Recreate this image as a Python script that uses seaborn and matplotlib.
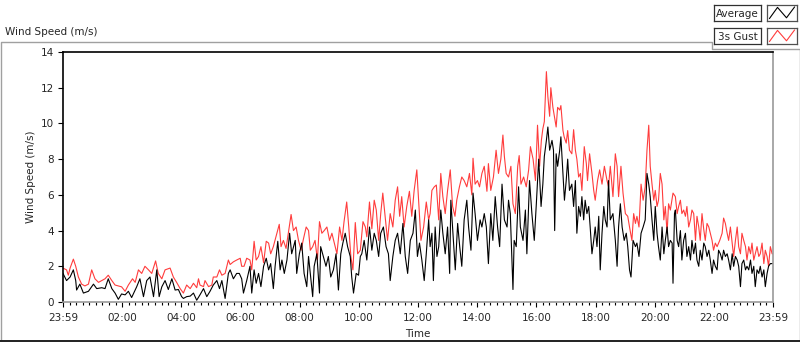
import pandas as pd
import seaborn as sns
import matplotlib.pyplot as plt
from matplotlib.lines import Line2D
from matplotlib.ticker import MultipleLocator, FixedLocator

# Time axis in hours after 23:59, wind speed in m/s
gust_hours = [
    0.00, 0.12, 0.18, 0.24, 0.35, 0.43, 0.52, 0.63, 0.74, 0.86, 0.97, 1.08, 1.20, 1.31, 1.42, 1.53, 1.65, 1.76, 1.87,
    1.98, 2.10, 2.21, 2.35, 2.44, 2.55, 2.66, 2.77, 2.89, 3.00, 3.13, 3.22, 3.34, 3.45, 3.62, 3.73, 3.84, 3.96, 4.07,
    4.18, 4.30, 4.41, 4.52, 4.58, 4.63, 4.75, 4.80, 4.92, 5.03, 5.08, 5.20, 5.29, 5.37, 5.48, 5.59, 5.65, 5.76, 5.87,
    5.99, 6.04, 6.12, 6.21, 6.32, 6.38, 6.46, 6.53, 6.61, 6.69, 6.78, 6.87, 6.95, 7.02, 7.11, 7.23, 7.31, 7.37, 7.45,
    7.54, 7.62, 7.71, 7.79, 7.88, 7.96, 8.05, 8.13, 8.22, 8.30, 8.36,
    8.44, 8.52, 8.60, 8.67, 8.75, 8.83, 8.92, 9.01, 9.09, 9.17, 9.26, 9.35, 9.43, 9.50, 9.59, 9.66, 9.73, 9.80, 9.88,
    9.96, 10.05, 10.14, 10.22, 10.27, 10.36, 10.44, 10.52, 10.59, 10.67, 10.74, 10.81, 10.89, 10.97, 11.06, 11.15,
    11.23, 11.31, 11.38, 11.45, 11.53, 11.62, 11.71, 11.79, 11.87, 11.96, 12.02, 12.10, 12.19, 12.28, 12.36, 12.41,
    12.47, 12.55, 12.62, 12.70, 12.77, 12.84, 12.92, 13.00, 13.09, 13.17, 13.25, 13.31, 13.40, 13.48, 13.56, 13.65,
    13.74, 13.82, 13.86, 13.93, 14.01, 14.08, 14.16, 14.24, 14.33, 14.38, 14.46, 14.55, 14.64, 14.72, 14.80, 14.87,
    14.92, 14.98, 15.06, 15.14, 15.21, 15.29, 15.37, 15.42, 15.48, 15.57, 15.66, 15.74, 15.80, 15.89, 15.97, 16.04,
    16.11, 16.17, 16.22, 16.27, 16.34, 16.39, 16.45,
    16.49, 16.56, 16.61, 16.67, 16.72, 16.79, 16.83, 16.90, 16.94, 17.01, 17.06, 17.12, 17.20, 17.26, 17.32, 17.37,
    17.43, 17.49, 17.54, 17.62, 17.69, 17.73, 17.80, 17.88, 17.94, 17.99, 18.07, 18.14, 18.22, 18.30, 18.39, 18.44,
    18.50, 18.59, 18.67, 18.73, 18.78, 18.86, 18.93, 19.01, 19.09, 19.15, 19.23, 19.29, 19.35, 19.40, 19.47, 19.54,
    19.61, 19.68, 19.74, 19.80, 19.85, 19.91, 19.97, 20.02, 20.08, 20.13, 20.19, 20.25, 20.31, 20.36, 20.42, 20.47,
    20.53,
    20.62, 20.70, 20.76, 20.81, 20.87, 20.92, 20.98, 21.04, 21.09, 21.15, 21.21, 21.26, 21.32, 21.38, 21.43, 21.49,
    21.54, 21.60, 21.66, 21.71, 21.77, 21.83, 21.88, 21.94, 21.99, 22.05, 22.11, 22.20, 22.28, 22.33, 22.39, 22.45,
    22.50, 22.56, 22.62, 22.67, 22.73, 22.79, 22.84, 22.90, 22.95, 23.01, 23.07, 23.12, 23.18, 23.24, 23.29, 23.35,
    23.40, 23.46, 23.52, 23.57, 23.63, 23.69, 23.74, 23.80, 23.85, 23.91, 23.97, 24.00,
]
gust_speed = [
    1.9, 1.8, 1.5, 1.9, 2.4, 2.0, 1.4, 1.0, 0.9, 1.0, 1.8, 1.3, 1.1, 1.2, 1.3, 1.5, 1.2, 0.95, 0.9,
    0.85, 0.6, 0.95, 1.3, 1.1, 1.8, 1.6, 2.0, 1.8, 1.6, 2.3, 1.6, 1.3, 1.8, 1.9, 1.4, 1.1, 0.75, 0.5,
    0.95, 0.75, 1.05, 0.8, 1.3, 0.95, 0.86, 1.2, 0.86, 0.95, 1.4, 1.4, 1.8, 1.5, 1.6, 2.35, 2.1, 2.25, 2.35,
    2.45, 2.0, 2.0, 2.45, 2.35, 1.8, 3.4, 2.35, 2.55, 3.1, 2.2, 3.4, 3.3, 2.7, 3.1, 3.85, 4.35, 3.1, 3.45,
    3.0, 3.9, 4.9, 4.0, 4.2, 3.45, 2.9, 3.55, 4.2, 4.0, 2.9,
    3.1, 3.45, 2.35, 4.5, 3.85, 4.0, 4.2, 3.45, 3.85, 3.3, 2.7, 4.2, 3.45, 4.5, 5.6, 4.2, 2.55, 1.8, 4.45,
    2.7, 2.9, 4.5, 4.2, 3.65, 5.6, 4.1, 5.7, 5.15, 3.45, 4.95, 6.1, 4.8, 3.45, 4.95, 4.2,
    5.7, 6.45, 4.8, 5.9, 4.2, 5.35, 6.2, 4.8, 6.25, 7.4, 5.7, 3.45, 4.2, 5.6, 4.6, 4.95,
    6.25, 6.45, 6.55, 4.6, 7.2, 5.9, 4.95, 6.25, 7.4, 5.35, 4.8, 5.7, 6.45, 7.0, 6.8, 6.45,
    7.2, 6.0, 8.05, 6.6, 6.8, 6.45, 7.2, 7.6, 6.2, 7.75, 6.25, 7.0, 8.5, 7.2, 8.0, 9.35,
    8.15, 7.2, 7.0, 7.6, 5.5, 4.95, 7.6, 8.2, 6.6, 7.0, 6.45, 7.4, 8.7, 8.0, 6.8, 9.9,
    7.6, 9.05, 9.7, 10.1, 12.9, 11.5, 10.4,
    12.0, 10.9, 10.4, 9.8, 10.9, 10.75, 11.0, 9.6, 9.25, 8.9, 9.6, 8.5, 8.3, 9.65, 8.5, 8.0,
    7.0, 7.2, 6.25, 8.7, 7.75, 6.8, 8.3, 7.2, 6.25, 5.7, 6.8, 7.4, 6.6, 7.6, 6.8, 6.45,
    7.6, 5.9, 8.3, 7.6, 5.9, 7.6, 6.1, 4.95, 4.8, 4.2, 3.45, 4.95, 4.4, 4.8, 4.2, 6.6,
    5.7, 6.45, 8.5, 9.9, 7.6, 6.6, 5.7, 6.25, 5.35, 5.7, 7.2, 6.6, 4.6, 5.35, 3.85, 5.5,
    5.15,
    6.1, 5.9, 4.95, 5.35, 5.7, 4.95, 5.15, 4.8, 5.35, 4.2, 4.6, 5.15, 4.95, 3.45, 4.8, 4.2,
    3.45, 4.95, 4.05, 3.45, 4.4, 4.2, 3.85, 3.45, 2.9, 3.3, 3.1, 3.45, 3.85, 4.7, 4.4, 3.85,
    3.45, 4.2, 3.3, 2.55, 3.45, 4.2, 3.1, 2.7, 3.85, 3.45, 3.1, 2.35, 3.1, 2.7, 3.3, 2.35,
    2.7, 3.1, 2.55, 2.7, 3.3, 2.15, 2.9, 2.55, 2.0, 3.1, 2.7, 2.7,
]

avg_hours = [
    0.00, 0.12, 0.24, 0.35, 0.43, 0.46, 0.57, 0.69, 0.86, 1.03, 1.14, 1.31, 1.42, 1.53, 1.65, 1.76, 1.87, 1.98, 2.10,
    2.21, 2.32, 2.49, 2.60, 2.72, 2.83, 2.94, 3.06, 3.17, 3.25, 3.34, 3.45, 3.56, 3.68, 3.79, 3.90, 4.01, 4.07,
    4.18, 4.30, 4.41, 4.52, 4.63, 4.75, 4.86, 4.97, 5.08, 5.20, 5.29, 5.37, 5.48, 5.59, 5.65, 5.76, 5.87, 5.96, 6.04,
    6.10, 6.21, 6.32, 6.38, 6.46, 6.53, 6.61, 6.69, 6.78, 6.87, 6.95, 7.02, 7.11, 7.17, 7.26, 7.34, 7.40, 7.48, 7.57,
    7.66, 7.73, 7.85, 7.90, 7.99, 8.07, 8.15, 8.24, 8.30, 8.36,
    8.44, 8.49, 8.58, 8.67, 8.71, 8.80, 8.89, 8.97, 9.05, 9.14, 9.23, 9.31, 9.39, 9.46, 9.54, 9.62, 9.71, 9.76, 9.82,
    9.91, 9.99, 10.05, 10.10, 10.18, 10.27, 10.36, 10.44, 10.52, 10.59, 10.67, 10.74, 10.83, 10.92, 11.00, 11.06,
    11.15, 11.23, 11.31, 11.40, 11.49, 11.57, 11.65, 11.74, 11.83, 11.91, 11.98, 12.05, 12.13, 12.21, 12.28, 12.36,
    12.41,
    12.47, 12.52, 12.58, 12.64, 12.70, 12.77, 12.84, 12.92, 13.00, 13.07, 13.11, 13.18, 13.26, 13.34, 13.41, 13.48,
    13.56, 13.65, 13.71, 13.79, 13.86, 13.93, 14.01, 14.10, 14.16, 14.24, 14.31, 14.38, 14.46, 14.53, 14.61, 14.69,
    14.76, 14.84, 14.92, 15.01, 15.06, 15.12, 15.21, 15.25, 15.32, 15.40, 15.46, 15.55, 15.63, 15.68, 15.77, 15.85,
    15.93, 16.00, 16.08, 16.16, 16.22, 16.27, 16.34, 16.39, 16.45,
    16.53, 16.58, 16.62, 16.67, 16.72, 16.79, 16.83, 16.90, 16.95, 17.01, 17.06, 17.12, 17.20, 17.26, 17.32, 17.37,
    17.43, 17.49, 17.54, 17.60, 17.65, 17.71, 17.77, 17.82, 17.88, 17.94, 17.99, 18.05, 18.11, 18.16, 18.22, 18.28,
    18.33, 18.39, 18.44, 18.50, 18.59, 18.67, 18.73, 18.78, 18.84, 18.90, 18.97, 19.04, 19.09, 19.15, 19.20, 19.27,
    19.35, 19.40, 19.47, 19.54, 19.61, 19.68, 19.74, 19.80, 19.85, 19.91, 19.97, 20.02, 20.08, 20.13, 20.19, 20.25,
    20.31, 20.36, 20.42, 20.47, 20.53,
    20.59, 20.62, 20.67, 20.70, 20.76, 20.81, 20.87, 20.92, 20.98, 21.04, 21.09, 21.15, 21.21, 21.26, 21.32, 21.38,
    21.43, 21.49, 21.54, 21.60, 21.66, 21.71, 21.77, 21.83, 21.88, 21.94, 21.99, 22.05, 22.11, 22.16, 22.22, 22.28,
    22.33, 22.39, 22.45, 22.50, 22.56, 22.62, 22.67, 22.73, 22.79, 22.84, 22.90, 22.95, 23.01, 23.07, 23.12, 23.18,
    23.24, 23.29, 23.35, 23.40, 23.46, 23.52, 23.57, 23.63, 23.69, 23.74, 23.80, 23.85, 23.91, 23.97, 24.00,
]
avg_speed = [
    1.6, 1.2, 1.4, 1.8, 1.2, 0.67, 1.0, 0.5, 0.6, 1.0, 0.75, 0.8, 0.75, 1.3, 0.75, 0.5, 0.15, 0.45, 0.4,
    0.6, 0.25, 0.85, 1.3, 0.3, 1.2, 1.4, 0.3, 1.8, 0.3, 0.85, 1.2, 0.7, 1.3, 0.67, 0.7, 0.3, 0.2,
    0.3, 0.33, 0.5, 0.1, 0.4, 0.75, 0.3, 0.6, 0.95, 1.2, 0.75, 1.2, 0.2, 1.6, 1.8, 1.3, 1.6, 1.6, 1.3,
    0.5, 1.2, 2.0, 0.5, 1.8, 1.05, 1.6, 0.86, 2.0, 2.45, 1.8, 2.15, 0.75, 2.0, 3.4, 1.8, 2.35, 1.6, 2.35,
    3.85, 2.7, 3.45, 1.6, 2.7, 3.3, 1.6, 0.86, 2.55, 1.6,
    0.3, 2.0, 2.7, 0.5, 3.1, 2.55, 2.0, 2.55, 1.4, 1.8, 2.7, 0.67, 2.7, 3.3, 3.85, 3.1, 2.55, 1.4, 0.5,
    1.6, 1.5, 2.55, 2.7, 3.45, 2.35, 4.2, 2.9, 3.85, 3.45, 2.55, 3.85, 4.2, 3.1, 2.7, 1.2,
    2.55, 3.45, 3.85, 2.7, 4.4, 2.55, 1.6, 3.45, 3.85, 5.15, 2.55, 3.3, 2.35, 1.2, 2.7, 4.6,
    3.1,
    3.85, 1.2, 4.2, 2.55, 3.1, 5.15, 3.85, 2.7, 4.2, 1.6, 5.7, 3.85, 1.8, 4.4, 3.1, 2.0,
    4.6, 5.7, 4.2, 2.9, 6.1, 4.95, 3.45, 4.6, 4.2, 4.95, 4.2, 2.15, 4.95, 3.45, 5.9, 4.2,
    3.1, 6.6, 4.6, 4.2, 5.7, 4.95, 0.7, 3.45, 3.1, 6.45, 4.2, 3.45, 5.15, 2.7, 6.8, 4.95,
    3.45, 5.5, 8.0, 5.35, 6.6, 8.15, 9.05, 9.8, 8.5,
    9.05, 8.5, 4.0, 8.3, 7.6, 8.5, 9.25, 7.2, 5.7, 6.8, 8.0, 6.25, 6.6, 5.35, 6.8, 3.85,
    5.35, 4.8, 5.9, 4.6, 5.7, 4.95, 5.35, 4.2, 2.7, 3.45, 4.2, 3.1, 4.8, 1.8, 3.85, 5.35,
    4.6, 4.2, 6.8, 4.6, 4.95, 3.45, 2.0, 4.2, 5.5, 4.2, 3.45, 3.85, 3.1, 1.8, 1.4, 3.45,
    3.1, 3.3, 2.55, 3.85, 4.2, 4.6, 7.2, 6.6, 5.9, 4.6, 3.45, 5.35, 3.85, 3.1, 2.35, 4.2,
    2.7, 3.45, 4.2, 3.1, 3.45,
    3.3, 1.05, 4.95, 5.15, 3.45, 3.1, 4.0, 2.35, 3.45, 3.85, 2.55, 3.1, 2.35, 3.45, 2.7, 3.3,
    2.35, 2.0, 2.9, 2.35, 3.3, 3.1, 2.55, 2.9, 2.35, 1.6, 2.35, 2.0, 1.8, 2.9, 2.7, 2.35,
    2.9, 2.55, 2.7, 2.35, 1.8, 2.7, 2.0, 2.55, 2.35, 2.0, 0.86, 2.15, 2.35, 1.8, 2.0, 1.8,
    2.35, 1.6, 2.0, 0.86, 1.8, 1.6, 2.0, 1.4, 1.8, 0.86, 1.6, 2.0, 2.15, 2.15, 2.15,
]

tick_hours = list(range(0, 25, 2))
tick_labels = ["23:59", "02:00", "04:00", "06:00", "08:00", "10:00", "12:00",
               "14:00", "16:00", "18:00", "20:00", "22:00", "23:59"]

sns.set_style("white")
plt.rcParams['font.family'] = ['DejaVu Sans']
plt.rcParams['font.size'] = 7.5

W, H = 800, 342
fig = plt.figure(figsize=(8, 3.42), dpi=100)


def fx(x):
    return x / W


def fy(y):
    return 1 - y / H


ax = fig.add_axes([fx(63), fy(302), 710 / W, 250 / H])

gust = pd.DataFrame({"hours": gust_hours, "speed": gust_speed})
avg = pd.DataFrame({"hours": avg_hours, "speed": avg_speed})
sns.lineplot(data=gust, x="hours", y="speed", ax=ax, color="#ff3c3c", lw=0.8,
             estimator=None, sort=False)
sns.lineplot(data=avg, x="hours", y="speed", ax=ax, color="black", lw=0.8,
             estimator=None, sort=False)

ax.set_xlim(0, 24)
ax.set_ylim(0, 14)
ax.xaxis.set_major_locator(FixedLocator(tick_hours))
ax.set_xticklabels(tick_labels)
ax.xaxis.set_minor_locator(MultipleLocator(2 / 9))
ax.yaxis.set_major_locator(MultipleLocator(2))
ax.tick_params(which="major", direction="out", length=3.6, width=0.8, color="black",
               labelsize=7.5, bottom=True, left=True)
ax.tick_params(axis="x", which="major", pad=4.5)
ax.tick_params(axis="y", which="major", pad=3)
ax.tick_params(which="minor", axis="x", direction="out", length=2.2, width=0.8,
               color="black", bottom=True)
ax.set_xlabel("Time", fontsize=7.5, labelpad=4)
ax.set_ylabel("Wind Speed (m/s)", fontsize=7.5, labelpad=3)

for side in ["top", "left"]:
    ax.spines[side].set_color("black")
    ax.spines[side].set_linewidth(1.2)
for side in ["right", "bottom"]:
    ax.spines[side].set_color("#9a9a9a")
    ax.spines[side].set_linewidth(1.2)

# panel frame around the chart
frame = [(0.5, 340), (0.5, 42), (712, 42), (712, 49), (799.5, 49), (799.5, 340)]
fig.add_artist(Line2D([fx(p[0]) for p in frame], [fy(p[1]) for p in frame],
                      color="#a0a0a0", lw=1.0))
fig.add_artist(Line2D([0, 1], [fy(340.5), fy(340.5)], color="#202020", lw=1.4))

fig.text(fx(5), fy(32), "Wind Speed (m/s)", ha="left", va="center", fontsize=7.5)

# legend: name boxes and line icons
for i, (name, col) in enumerate([("Average", "black"), ("3s Gust", "#ff3c3c")]):
    top = 5 + i * 23
    tax = fig.add_axes([fx(714), fy(top + 16), 47 / W, 16 / H])
    tax.set_xticks([])
    tax.set_yticks([])
    for s in tax.spines.values():
        s.set_color("#303030")
        s.set_linewidth(0.9)
    tax.text(0.5, 0.45, name, ha="center", va="center", fontsize=7.5,
             transform=tax.transAxes)
    iax = fig.add_axes([fx(767), fy(top + 16), 30 / W, 16 / H])
    iax.set_xticks([])
    iax.set_yticks([])
    iax.set_xlim(0, 1)
    iax.set_ylim(0, 1)
    for s in iax.spines.values():
        s.set_color("#505050")
        s.set_linewidth(0.9)
    iax.plot([0.08, 0.35, 0.65, 0.92], [0.15, 0.85, 0.2, 0.88], color=col, lw=0.8)

fig.savefig("out.png", dpi=100)
